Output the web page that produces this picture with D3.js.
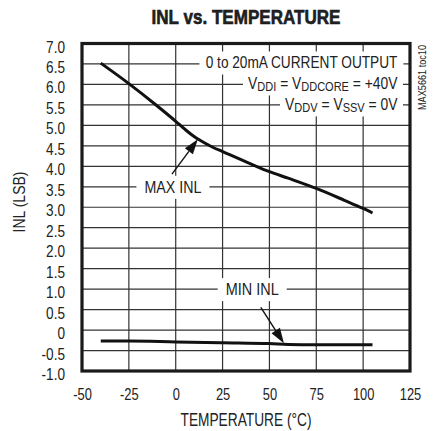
<!DOCTYPE html>
<html>
<head>
<meta charset="utf-8">
<script src="https://cdn.jsdelivr.net/npm/d3@7/dist/d3.min.js"></script>
<style>
  html, body { margin: 0; padding: 0; background: #fff; }
  svg { display: block; }
  text { font-family: "Liberation Sans", Arial, sans-serif; fill: #222; }
</style>
</head>
<body>
<svg id="chart" width="433" height="431"></svg>
<script>
// ---- data ----
const xTickValues = [-50, -25, 0, 25, 50, 75, 100, 125];
const xTickLabels = ["-50", "-25", "0", "25", "50", "75", "100", "125"];
const yTickValues = [7.0, 6.5, 6.0, 5.5, 5.0, 4.5, 4.0, 3.5, 3.0, 2.5, 2.0, 1.5, 1.0, 0.5, 0, -0.5, -1.0];
const yTickLabels = ["7.0", "6.5", "6.0", "5.5", "5.0", "4.5", "4.0", "3.5", "3.0", "2.5", "2.0", "1.5", "1.0", "0.5", "0", "-0.5", "-1.0"];

const maxTemps = [-40, -25, -10, 0, 5, 10, 15, 20, 25, 40, 50, 60, 75, 90, 100, 105];
const maxINL   = [6.52, 6.02, 5.48, 5.10, 4.90, 4.72, 4.58, 4.46, 4.36, 4.06, 3.87, 3.71, 3.46, 3.17, 2.97, 2.86];
const minTemps = [-40, -25, 0, 25, 50, 60, 75, 105];
const minINL   = [-0.27, -0.27, -0.29, -0.31, -0.33, -0.35, -0.36, -0.36];

const title = "INL vs. TEMPERATURE";
const xLabel = "TEMPERATURE (°C)";
const yLabel = "INL (LSB)";
const sideNote = "MAX5661 toc10";

// ---- layout ----
const svg = d3.select("#chart");
const x = d3.scaleLinear().domain([-50, 125]).range([82, 410]);
const y = d3.scaleLinear().domain([-1, 7]).range([371, 43.5]);
const gridColor = "#333";
const SX = 0.8; // horizontal condensing factor (reference uses a condensed face)

// grid
const grid = svg.append("g");
grid.selectAll("line.h").data(yTickValues).join("line")
  .attr("x1", x(-50)).attr("x2", x(125))
  .attr("y1", d => y(d)).attr("y2", d => y(d))
  .attr("stroke", gridColor).attr("stroke-width", 1.2);
grid.selectAll("line.v").data(xTickValues).join("line")
  .attr("y1", y(-1)).attr("y2", y(7))
  .attr("x1", d => x(d)).attr("x2", d => x(d))
  .attr("stroke", gridColor).attr("stroke-width", 1.2);

// axes (labels only)
const yAxis = d3.axisLeft(y).tickValues(yTickValues)
  .tickFormat((d, i) => yTickLabels[i]).tickSize(0).tickPadding(17);
const gy = svg.append("g").attr("transform", `translate(${x(-50)},0)`).call(yAxis);
gy.select(".domain").remove();
gy.selectAll("text").style("font-size", "17px").attr("fill", "#222")
  .style("font-family", '"Liberation Sans", Arial, sans-serif')
  .attr("x", -17 / SX).attr("dy", "0.5em").attr("transform", `scale(${SX},1)`);

const xAxis = d3.axisBottom(x).tickValues(xTickValues)
  .tickFormat((d, i) => xTickLabels[i]).tickSize(0).tickPadding(17);
const gx = svg.append("g").attr("transform", `translate(0,${y(-1)})`).call(xAxis);
gx.select(".domain").remove();
gx.selectAll("text").style("font-size", "17px").attr("fill", "#222")
  .style("font-family", '"Liberation Sans", Arial, sans-serif')
  .attr("transform", `scale(${0.76},1)`);

// border
svg.append("rect")
  .attr("x", x(-50)).attr("y", y(7))
  .attr("width", x(125) - x(-50)).attr("height", y(-1) - y(7))
  .attr("fill", "none").attr("stroke", "#1a1a1a").attr("stroke-width", 3.2);

// curves
const line = d3.line().x(d => x(d[0])).y(d => y(d[1])).curve(d3.curveMonotoneX);
svg.append("path").datum(d3.zip(maxTemps, maxINL))
  .attr("d", line).attr("fill", "none").attr("stroke", "#111").attr("stroke-width", 3);
svg.append("path").datum(d3.zip(minTemps, minINL))
  .attr("d", line).attr("fill", "none").attr("stroke", "#111").attr("stroke-width", 3);

// condensed text helper, optionally with white box behind
function ctext(tx, ty, content, opts) {
  const outer = svg.append("g").attr("transform", `translate(${tx},${ty})`);
  const inner = outer.append("g");
  const r = opts.box ? inner.append("rect").attr("fill", "#fff") : null;
  const t = inner.append("text").attr("x", 0).attr("y", 0)
    .attr("text-anchor", opts.anchor || "middle")
    .style("font-size", (opts.size || 17) + "px");
  if (opts.weight) t.style("font-weight", opts.weight);
  if (opts.fill) t.attr("fill", opts.fill);
  if (opts.stroke) t.attr("stroke", opts.fill || "#222").attr("stroke-width", opts.stroke);
  if (Array.isArray(content)) {
    content.forEach(p => {
      const ts = t.append("tspan").text(p.t);
      if (p.sub) ts.style("font-size", "13.5px").attr("dy", 2);
      else if (p.after) ts.attr("dy", -2);
    });
  } else t.text(content);
  let bb = t.node().getBBox();
  const sx = opts.width ? opts.width / bb.width : (opts.sx || SX);
  inner.attr("transform", `${opts.rot ? "rotate(" + opts.rot + ") " : ""}scale(${sx},1)`);
  if (r) {
    const padX = (opts.padX || 6) / sx;
    r.attr("x", bb.x - padX).attr("width", bb.width + 2 * padX)
     .attr("y", -17).attr("height", 23);
  }
  return outer;
}

function arrow(x0, y0, x1, y1) {
  const px0 = x(x0), py0 = y(y0), px1 = x(x1), py1 = y(y1);
  const ang = Math.atan2(py1 - py0, px1 - px0);
  const L = 15, W = 5;
  const bx = px1 - L * Math.cos(ang), by = py1 - L * Math.sin(ang);
  svg.append("line").attr("x1", px0).attr("y1", py0).attr("x2", bx).attr("y2", by)
    .attr("stroke", "#111").attr("stroke-width", 1.4);
  const nx = -Math.sin(ang), ny = Math.cos(ang);
  svg.append("path")
    .attr("d", `M${px1},${py1}L${bx + W * nx},${by + W * ny}L${bx - W * nx},${by - W * ny}Z`)
    .attr("fill", "#111");
}

// legend lines
ctext(x(118.3), y(6.5) + 4.5, "0 to 20mA CURRENT OUTPUT", { anchor: "end", width: 192, box: true });
ctext(x(118.3), y(6.0) + 5, [{t: "V"}, {t: "DDI", sub: true}, {t: " = V", after: true}, {t: "DDCORE", sub: true}, {t: " = +40V", after: true}], { anchor: "end", width: 150, box: true, padX: 5 });
ctext(x(118.3), y(5.5) + 5.5, [{t: "V"}, {t: "DDV", sub: true}, {t: " = V", after: true}, {t: "SSV", sub: true}, {t: " = 0V", after: true}], { anchor: "end", width: 113, box: true, padX: 5 });

// annotations
arrow(-2.0, 3.81, 11.8, 4.66);
arrow(45.4, 0.556, 57.7, -0.32);
ctext(x(-1.5), y(3.5) + 6, "MAX INL", { width: 57, box: true, padX: 8 });
ctext(x(40.8), y(1.0) + 6, "MIN INL", { width: 53, box: true, padX: 8 });

// title & axis titles
ctext(246, 23.5, title, { size: 20.5, weight: "bold", width: 189, fill: "#111", stroke: 0.6 });
ctext(246, 426, xLabel, { size: 17.5, width: 131 });
ctext(24.5, 202, yLabel, { size: 17, width: 61, rot: -90 });
ctext(426, 77.5, sideNote, { size: 11, width: 65, rot: -90 });
</script>
</body>
</html>
